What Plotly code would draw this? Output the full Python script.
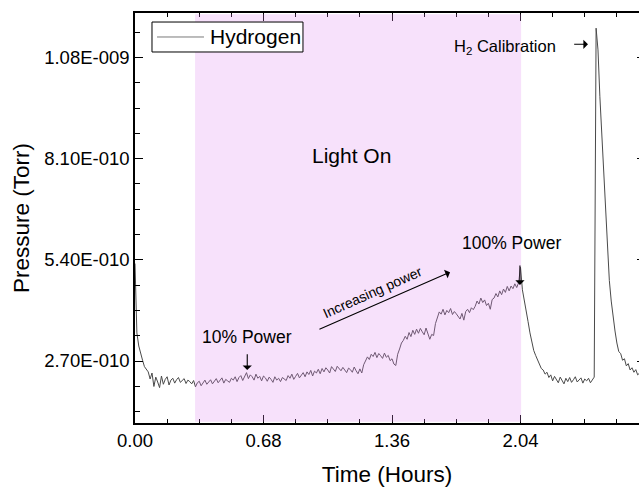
import plotly.graph_objects as go

# ---------------- data ----------------
SAMPLE_STEP_H = 0.01          # hours between samples
PRESSURE_UNIT = 1e-10         # values below are in units of 1e-10 Torr

pressure_e10 = [
    # 0.00 - 0.09
    5.30, 3.45, 3.10, 2.88, 2.72, 2.55, 2.48, 2.41, 2.22, 2.38,
    # 0.10 - 0.19
    2.02, 2.27, 2.14, 1.99, 2.30, 2.08, 2.21, 2.28, 2.06, 2.19,
    # 0.20 - 0.29
    2.24, 2.11, 2.20, 2.26, 2.13, 2.17, 2.23, 2.10, 2.19, 2.15,
    # 0.30 - 0.39
    2.09, 2.18, 2.01, 2.12, 2.16, 2.04, 2.13, 2.19, 2.08, 2.15,
    # 0.40 - 0.49
    2.20, 2.09, 2.16, 2.23, 2.12, 2.18, 2.25, 2.11, 2.21, 2.17,
    # 0.50 - 0.59
    2.13, 2.24, 2.19, 2.28, 2.15, 2.26, 2.31, 2.18, 2.27, 2.39,
    # 0.60 - 0.69
    2.23, 2.33, 2.28, 2.19, 2.35, 2.24, 2.29, 2.17, 2.30, 2.25,
    # 0.70 - 0.79
    2.16, 2.27, 2.21, 2.13, 2.28, 2.19, 2.24, 2.15, 2.26, 2.22,
    # 0.80 - 0.89
    2.18, 2.31, 2.24, 2.35, 2.21, 2.29, 2.37, 2.25, 2.32, 2.39,
    # 0.90 - 0.99
    2.28, 2.41, 2.34, 2.45, 2.30, 2.43, 2.38, 2.48, 2.36, 2.50,
    # 1.00 - 1.09
    2.41, 2.52, 2.46, 2.38, 2.55, 2.47, 2.42, 2.56, 2.49, 2.44,
    # 1.10 - 1.19
    2.53, 2.45, 2.39, 2.51, 2.47, 2.40, 2.54, 2.44, 2.36, 2.49,
    # 1.20 - 1.29
    2.38, 2.60, 2.70, 2.81, 2.74, 2.88, 2.82, 2.93, 2.79, 2.90,
    # 1.30 - 1.39
    2.84, 2.77, 2.91, 2.80, 2.85, 2.71, 2.76, 2.62, 2.58, 2.88,
    # 1.40 - 1.49
    3.02, 3.18, 3.25, 3.36, 3.28, 3.46, 3.35, 3.52, 3.41, 3.55,
    # 1.50 - 1.59
    3.44, 3.57, 3.48, 3.40, 3.58, 3.45, 3.28, 3.41, 3.38, 3.70,
    # 1.60 - 1.69
    3.88, 4.01, 3.95, 4.08, 3.93, 4.05, 3.99, 4.10, 3.94, 4.02,
    # 1.70 - 1.79
    3.96, 3.88, 3.82, 3.97, 3.79, 4.02, 4.08, 3.99, 4.12, 4.07,
    # 1.80 - 1.89
    4.16, 4.30, 4.22, 4.38, 4.26, 4.33, 4.18, 4.24, 4.08, 4.34,
    # 1.90 - 1.99
    4.38, 4.50, 4.41, 4.57, 4.47, 4.62, 4.53, 4.69, 4.57, 4.70,
    # 2.00 - 2.09
    4.63, 4.76, 4.66, 4.79, 5.20, 4.60, 4.35, 4.10, 3.75, 3.45,
    # 2.10 - 2.19
    3.18, 2.98, 2.85, 2.72, 2.62, 2.50, 2.46, 2.35, 2.40, 2.26,
    # 2.20 - 2.29
    2.33, 2.17, 2.29, 2.22, 2.12, 2.27, 2.18, 2.09, 2.24, 2.15,
    # 2.30 - 2.39
    2.26, 2.13, 2.20, 2.28, 2.14, 2.19, 2.25, 2.11, 2.22, 2.17,
    # 2.40 - 2.49
    2.24, 2.12, 2.21, 2.27, 11.58, 11.00, 9.75, 8.75, 7.75, 6.60,
    # 2.50 - 2.59
    5.65, 4.85, 4.30, 3.85, 3.50, 3.18, 2.95, 2.90, 2.72, 2.76,
    # 2.60 - 2.67
    2.57, 2.63, 2.46, 2.52, 2.40, 2.47, 2.33, 2.38,
]
time_h = [round(i * SAMPLE_STEP_H, 2) for i in range(len(pressure_e10))]
pressure_torr = [v * PRESSURE_UNIT for v in pressure_e10]

x_major_step = 0.68
x_minor_step = 0.17
y_tick_vals = [2.7e-10, 5.4e-10, 8.1e-10, 1.08e-9]
y_tick_text = ["2.70E-010", "5.40E-010", "8.10E-010", "1.08E-009"]
y_minor_step = 0.675e-10
x_range = [0.0, 2.667]
y_range = [1.046e-10, 1.1985e-9]
light_on_span = [0.318, 2.043]
series_name = "Hydrogen"

FONT = "Liberation Sans, Arial, sans-serif"

fig = go.Figure()
fig.add_trace(go.Scatter(
    x=time_h, y=pressure_torr, mode="lines", name=series_name,
    line=dict(color="#4a4a4a", width=1.0), hoverinfo="skip", showlegend=False,
))
# invisible helper traces to activate the extra tick-only axes
for ax_name in ("y2", "y3"):
    fig.add_trace(go.Scatter(
        x=time_h[:1], y=pressure_torr[:1], yaxis=ax_name, mode="lines",
        line=dict(width=0), showlegend=False, hoverinfo="skip",
    ))

# shaded "Light On" band (translucent, drawn over the trace)
fig.add_shape(type="rect", xref="x", yref="paper",
              x0=light_on_span[0], x1=light_on_span[1], y0=0.003, y1=0.997,
              fillcolor="rgba(222,135,240,0.25)", line=dict(width=0), layer="above")

# legend box (drawn manually to match the compact Origin-style legend)
fig.add_shape(type="rect", xref="paper", yref="paper",
              x0=0.0337, x1=0.3333, y0=0.9049, y1=0.978,
              fillcolor="white", line=dict(color="black", width=1), layer="above")
fig.add_shape(type="line", xref="paper", yref="paper",
              x0=0.0437, x1=0.1369, y0=0.9415, y1=0.9415,
              line=dict(color="#7a7a7a", width=1), layer="above")

ann_font = dict(family=FONT, color="black")
annotations = [
    dict(x=0.1448, y=0.9415, xref="paper", yref="paper", xanchor="left",
         yanchor="middle", text=series_name, showarrow=False,
         font=dict(size=21, **ann_font)),
    dict(x=1.148, y=8.17e-10, text="Light On", showarrow=False,
         font=dict(size=21, **ann_font)),
    dict(x=1.960, y=1.108e-9, text="H<sub>2</sub> Calibration", showarrow=False,
         font=dict(size=16.5, **ann_font)),
    dict(x=1.990, y=5.85e-10, text="100% Power", showarrow=False,
         font=dict(size=17.5, **ann_font)),
    dict(x=0.595, y=3.33e-10, text="10% Power", showarrow=False,
         font=dict(size=17.5, **ann_font)),
    dict(x=1.259, y=4.54e-10, text="Increasing power", showarrow=False,
         textangle=-24, font=dict(size=14, **ann_font)),
]
arrows = [
    (2.397, 1.115e-9, 2.316, 1.115e-9),
    (2.037, 4.73e-10, 2.037, 5.29e-10),
    (0.594, 2.46e-10, 0.594, 2.92e-10),
    (1.667, 5.07e-10, 0.968, 3.53e-10),
]
for hx, hy, tx, ty in arrows:
    annotations.append(dict(x=hx, y=hy, ax=tx, ay=ty, xref="x", yref="y",
                            axref="x", ayref="y", text="", showarrow=True,
                            arrowhead=1, arrowsize=1.4, arrowwidth=1.1,
                            arrowcolor="black", standoff=0, startstandoff=0))

tick_common = dict(ticks="inside", tickwidth=1.4, tickcolor="black",
                   showgrid=False, zeroline=False)

fig.update_layout(
    width=639, height=487,
    margin=dict(l=135, r=0, t=13, b=64),
    paper_bgcolor="white", plot_bgcolor="white",
    font=dict(family=FONT, size=18.5, color="black"),
    showlegend=False,
    xaxis=dict(range=x_range, tickmode="linear", tick0=0, dtick=x_major_step,
               tickformat=".2f", ticklen=8, showline=True,
               linecolor="black", linewidth=1.5, mirror="ticks",
               minor=dict(tickmode="linear", tick0=0, dtick=x_minor_step,
                          ticks="inside", ticklen=4.5, tickwidth=1.4,
                          tickcolor="black"),
               title=dict(text="Time (Hours)", font=dict(size=22.5), standoff=18),
               **tick_common),
    yaxis=dict(range=y_range, tickmode="array", tickvals=y_tick_vals,
               ticktext=y_tick_text, ticklen=8, showline=True,
               linecolor="black", linewidth=1.5, mirror=False,
               title=dict(text="Pressure (Torr)", font=dict(size=22.5), standoff=8),
               **tick_common),
    # right-hand (mirrored) major ticks, mostly cut off by the page edge
    yaxis2=dict(range=y_range, overlaying="y", side="right", tickmode="array",
                tickvals=y_tick_vals, ticklen=2.5, showticklabels=False,
                showline=False, **tick_common),
    # left-hand minor ticks
    yaxis3=dict(range=y_range, overlaying="y", side="left", anchor="x",
                tickmode="linear", tick0=0, dtick=y_minor_step, ticklen=4.5,
                showticklabels=False, showline=False, **tick_common),
    annotations=annotations,
)

fig.write_html("out.html")
